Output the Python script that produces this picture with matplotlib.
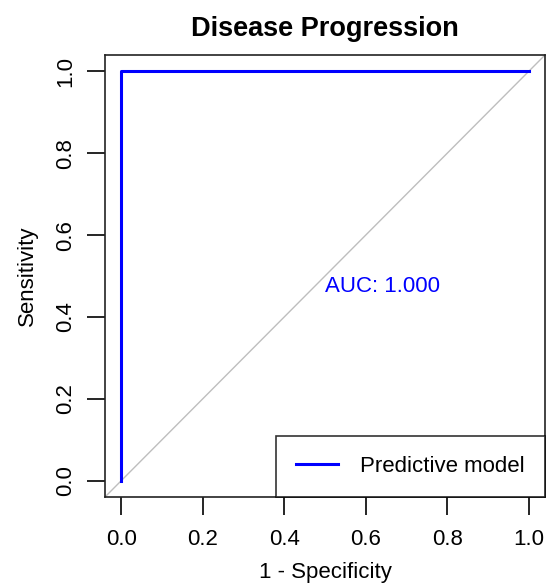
import matplotlib
matplotlib.use("Agg")
import matplotlib.pyplot as plt

plt.rcParams["font.family"] = ["Liberation Sans", "DejaVu Sans"]

# ROC curve points (1 - specificity, sensitivity)
fpr = [0.0, 0.0, 1.0]
tpr = [0.0, 1.0, 1.0]
auc = 1.000
ticks = [0.0, 0.2, 0.4, 0.6, 0.8, 1.0]
tick_labels = ["0.0", "0.2", "0.4", "0.6", "0.8", "1.0"]

fig = plt.figure(figsize=(5.46, 5.86), dpi=100)
ax = fig.add_axes([105 / 546, 1 - 497 / 586, 440 / 546, 442 / 586])

ax.plot([-0.04, 1.04], [-0.04, 1.04], color="#bebebe", lw=1)
ax.plot(fpr, tpr, color="blue", lw=2.2, label="Predictive model")
ax.text(0.64, 0.475, f"AUC: {auc:.3f}", color="blue", fontsize=16,
        ha="center", va="center")

ax.set_xlim(-0.04, 1.04)
ax.set_ylim(-0.04, 1.04)
ax.set_xticks(ticks)
ax.set_xticklabels(tick_labels)
ax.set_yticks(ticks)
ax.set_yticklabels(tick_labels, rotation=90, va="center")
ax.tick_params(direction="out", length=13, width=1.2, labelsize=16, pad=10, colors="black")
ax.tick_params(axis="y", pad=8)
for s in ax.spines.values():
    s.set_linewidth(1.2)
    s.set_color("#222222")

ax.set_title("Disease Progression", fontsize=19.5, fontweight="bold", pad=14)
ax.set_xlabel("1 - Specificity", fontsize=16, labelpad=9)
ax.set_ylabel("Sensitivity", fontsize=16, labelpad=12)

leg = ax.legend(loc="lower right", fontsize=16, frameon=True, fancybox=False,
                borderaxespad=0, handlelength=1.9, borderpad=0.9, handletextpad=1.0)
leg.get_frame().set_edgecolor("black")
leg.get_frame().set_linewidth(1.2)

fig.savefig("out.png", dpi=100)
